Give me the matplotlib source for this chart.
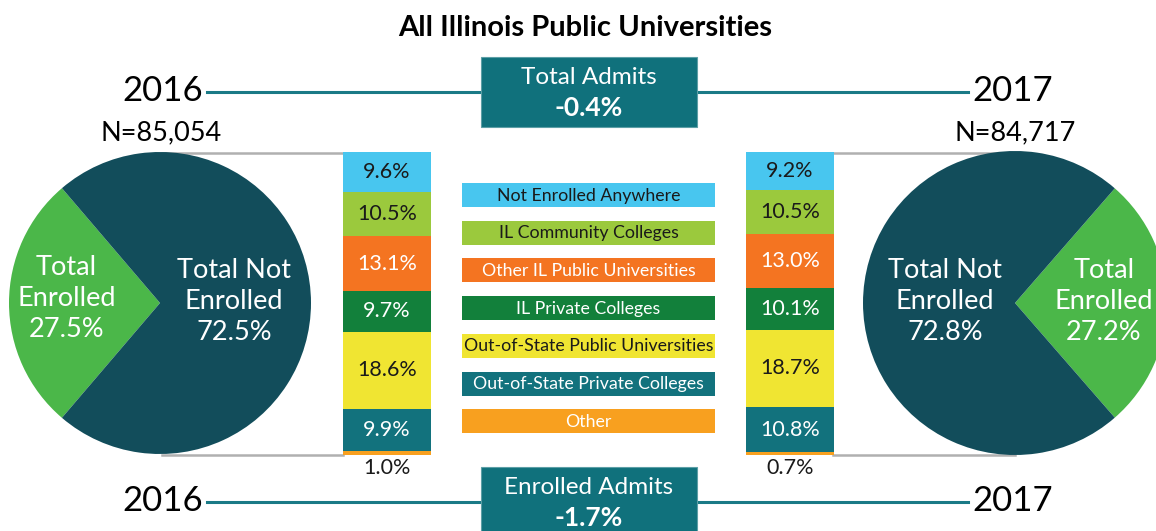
import matplotlib
matplotlib.use("Agg")
import matplotlib.pyplot as plt
from matplotlib.patches import Rectangle
import numpy as np

plt.rcParams['font.family'] = ['Lato', 'DejaVu Sans']

W, H = 1156, 531

# data
years = ['2016', '2017']
n_admits = ['N=85,054', 'N=84,717']
enrolled = [27.5, 27.2]
not_enrolled = [72.5, 72.8]
categories = ['Not Enrolled Anywhere', 'IL Community Colleges', 'Other IL Public Universities',
              'IL Private Colleges', 'Out-of-State Public Universities',
              'Out-of-State Private Colleges', 'Other']
share_2016 = [9.6, 10.5, 13.1, 9.7, 18.6, 9.9, 1.0]
share_2017 = [9.2, 10.5, 13.0, 10.1, 18.7, 10.8, 0.7]
total_admits_change = '-0.4%'
enrolled_admits_change = '-1.7%'

cat_colors = ['#48c6ef', '#9bc93d', '#f47421', '#12803b', '#f0e532', '#12727d', '#f8a01f']
cat_text = ['#1a1a1a', '#1a1a1a', 'white', 'white', '#1a1a1a', 'white', 'white']
teal = '#10717c'
dark_pie = '#124d5b'
green_pie = '#4bb749'
gray_line = '#b0b0b0'


def frac(x0, y0, w, h):
    return [x0 / W, 1 - (y0 + h) / H, w / W, h / H]


fig = plt.figure(figsize=(W / 100, H / 100), dpi=100)
ax = fig.add_axes([0, 0, 1, 1])
ax.set_xlim(0, W)
ax.set_ylim(H, 0)
ax.axis('off')

ax.text(585, 28, 'All Illinois Public Universities', ha='center', va='center',
        fontsize=21, fontweight='bold', color='black')

# header / footer boxes and lines
for (y_line, y_box, h_box, label, change) in [(92, 57, 70, 'Total Admits', total_admits_change),
                                              (502, 467, 80, 'Enrolled Admits', enrolled_admits_change)]:
    ax.plot([207, 481], [y_line, y_line], color='#1a7a86', lw=2.2, zorder=1)
    ax.plot([697, 968], [y_line, y_line], color='#1a7a86', lw=2.2, zorder=1)
    ax.add_patch(Rectangle((481, y_box), 216, h_box, facecolor=teal,
                           edgecolor='#5d9fa6', lw=0.8, zorder=2))
    ax.text(589, y_box + 21, label, ha='center', va='center', fontsize=17.5,
            color='white', zorder=3)
    ax.text(589, y_box + 51, change, ha='center', va='center', fontsize=19,
            fontweight='bold', color='white', zorder=3)
    ax.text(163, y_line - 1, years[0], ha='center', va='center', fontsize=25, color='black')
    ax.text(1013, y_line - 1, years[1], ha='center', va='center', fontsize=25, color='black')

ax.text(161, 133, n_admits[0], ha='center', va='center', fontsize=19.5, color='black')
ax.text(1015, 133, n_admits[1], ha='center', va='center', fontsize=19.5, color='black')

# gray connector lines
for y in [153, 455]:
    ax.plot([162, 343], [y, y], color=gray_line, lw=1.8, zorder=0)
    ax.plot([833, 1015], [y, y], color=gray_line, lw=1.8, zorder=0)

# legend boxes
for i, (cat, col, tc) in enumerate(zip(categories, cat_colors, cat_text)):
    y0 = 183 + i * 37.7
    ax.add_patch(Rectangle((462, y0), 253, 24, facecolor=col, edgecolor='none'))
    ax.text(588.5, y0 + 12.5, cat, ha='center', va='center', fontsize=12.8, color=tc)

# stacked bars
for x0, shares in [(343, share_2016), (746, share_2017)]:
    bax = fig.add_axes(frac(x0, 152, 88, 303))
    total = sum(shares)
    bottoms = np.concatenate([[0], np.cumsum(shares)[:-1]])
    bax.bar([0] * len(shares), shares, bottom=bottoms, width=1, color=cat_colors,
            edgecolor='none')
    bax.set_xlim(-0.5, 0.5)
    bax.set_ylim(total, 0)
    bax.axis('off')
    for s, b, tc in zip(shares[:-1], bottoms[:-1], cat_text[:-1]):
        bax.text(0, b + s / 2, f'{s:.1f}%', ha='center', va='center', fontsize=15.5, color=tc)
    bax.text(0, total + 3.1, f'{shares[-1]:.1f}%', ha='center', va='center',
             fontsize=15.5, color='#1a1a1a', clip_on=False)

# pies
pie_specs = [
    (160, 303, 151, enrolled[0], not_enrolled[0], 180, (-0.62, 0.03), (0.49, 0.01)),
    (1015, 303, 152, enrolled[1], not_enrolled[1], 0, (0.585, 0.01), (-0.46, 0.01)),
]
for cx, cy, r, e, ne, mid, pos_e, pos_ne in pie_specs:
    pax = fig.add_axes(frac(cx - r, cy - r, 2 * r, 2 * r))
    start = mid - e / 100 * 360 / 2
    pax.pie([e, ne], colors=[green_pie, dark_pie], startangle=start, counterclock=True,
            radius=1, wedgeprops=dict(linewidth=0))
    pax.set_xlim(-1, 1)
    pax.set_ylim(-1, 1)
    pax.axis('off')
    pax.text(pos_e[0], pos_e[1], f'Total\nEnrolled\n{e:.1f}%', ha='center', va='center',
             fontsize=19.5, color='white', linespacing=1.3)
    pax.text(pos_ne[0], pos_ne[1], f'Total Not\nEnrolled\n{ne:.1f}%', ha='center',
             va='center', fontsize=19.5, color='white', linespacing=1.3)

fig.savefig('out.png', dpi=100)
